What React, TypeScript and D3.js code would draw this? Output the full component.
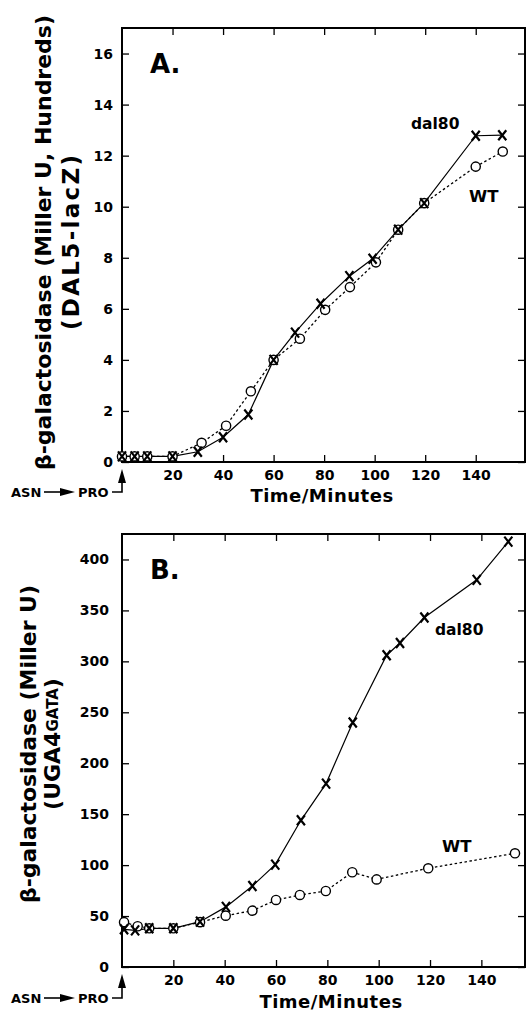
import { useRef, useEffect } from 'react';
import * as d3 from 'd3';

const FONT = '"DejaVu Sans", "Liberation Sans", Arial, sans-serif';

// panel A: DAL5-lacZ (Miller units, hundreds)
const timeA_dal80 = [0, 5, 10, 20, 30, 40, 50, 60, 68.5, 78.6, 90, 99.2, 109.3, 119.6, 140, 150.5];
const valA_dal80 = [0.22, 0.22, 0.22, 0.22, 0.4, 0.97, 1.86, 4.0, 5.07, 6.2, 7.28, 7.96, 9.1, 10.14, 12.78, 12.8];
const timeA_wt = [0, 5, 10, 20, 31.5, 41.2, 51, 60, 70.4, 80.4, 90.2, 100.5, 109.3, 119.6, 140, 150.7];
const valA_wt = [0.22, 0.22, 0.22, 0.22, 0.75, 1.42, 2.77, 4.0, 4.83, 5.96, 6.85, 7.82, 9.1, 10.14, 11.57, 12.16];

// panel B: UGA4-GATA (Miller units)
const timeB_dal80 = [0.8, 5.1, 10.6, 20, 30.4, 40.5, 50.8, 59.7, 69.7, 79.5, 89.9, 103.1, 108.3, 117.8, 138.2, 150.5];
const valB_dal80 = [37, 36, 38, 38, 44.5, 59, 79.5, 100.5, 144, 180, 240, 306, 318, 343, 380, 417.5];
const timeB_wt = [0.8, 6.1, 10.6, 20, 30.4, 40.4, 50.8, 60, 69.3, 79.4, 89.7, 99.2, 119.3, 153.1];
const valB_wt = [44, 40, 38, 38, 44, 50.4, 55.3, 65.8, 70.7, 74.6, 93, 86, 96.9, 111.6];

const ticksA_y = d3.range(0, 17, 2);
const ticksB_y = d3.range(0, 401, 50);
const ticks_x = [20, 40, 60, 80, 100, 120, 140];

const L = 122, R = 525;

function styleAxis(g: any) {
  g.select('.domain').remove();
  g.selectAll('line').attr('stroke', '#000').attr('stroke-width', 1.3);
  g.selectAll('text')
    .attr('font-family', FONT)
    .attr('font-weight', 'bold')
    .attr('font-size', 14)
    .attr('fill', '#000');
}

function XMark({ x, y }: { x: number; y: number }) {
  return <path d={`M${x - 4},${y - 5}L${x + 4},${y + 5}M${x + 4},${y - 5}L${x - 4},${y + 5}`} stroke="#000" strokeWidth={2.2} />;
}

function Panel({ top, bottom, xMax, yMax, yTicks, yPad, dal80, wt }: any) {
  const gl = useRef<SVGGElement>(null);
  const gb = useRef<SVGGElement>(null);
  const gt = useRef<SVGGElement>(null);
  const gr = useRef<SVGGElement>(null);
  const x = d3.scaleLinear([0, xMax], [L, R]);
  const y = d3.scaleLinear([0, yMax], [bottom, top]);

  useEffect(() => {
    d3.select(gl.current).call(d3.axisLeft(y).tickValues(yTicks).tickSizeInner(-7).tickSizeOuter(0).tickPadding(yPad)).call(styleAxis);
    d3.select(gb.current).call(d3.axisBottom(x).tickValues(ticks_x).tickSizeInner(-7).tickSizeOuter(0).tickPadding(8)).call(styleAxis);
    d3.select(gt.current).call(d3.axisTop(x).tickValues(ticks_x).tickSizeInner(-7).tickSizeOuter(0).tickFormat(() => '')).call(styleAxis);
    d3.select(gr.current).call(d3.axisRight(y).tickValues(yTicks).tickSizeInner(-7).tickSizeOuter(0).tickFormat(() => '')).call(styleAxis);
  }, [gl, gb, gt, gr, x, y]);

  const line = d3.line<[number, number]>().x(d => x(d[0])).y(d => y(d[1]));
  const dPts = d3.zip(dal80[0], dal80[1]) as [number, number][];
  const wPts = d3.zip(wt[0], wt[1]) as [number, number][];

  return (
    <g>
      <g ref={gl} transform={`translate(${L},0)`} />
      <g ref={gb} transform={`translate(0,${bottom})`} />
      <g ref={gt} transform={`translate(0,${top})`} />
      <g ref={gr} transform={`translate(${R},0)`} />
      <rect x={L} y={top} width={R - L} height={bottom - top} fill="none" stroke="#000" strokeWidth={2} />
      <path d={line(wPts) ?? ''} fill="none" stroke="#000" strokeWidth={1.3} strokeDasharray="2.5,2.5" />
      <path d={line(dPts) ?? ''} fill="none" stroke="#000" strokeWidth={1.2} />
      {wPts.map((d, i) => (
        <circle key={'w' + i} cx={x(d[0])} cy={y(d[1])} r={4.6} fill="#fff" stroke="#000" strokeWidth={1.4} />
      ))}
      {dPts.map((d, i) => (
        <XMark key={'d' + i} x={x(d[0])} y={y(d[1])} />
      ))}
    </g>
  );
}

function Shift({ base, axis }: { base: number; axis: number }) {
  // "ASN -> PRO" with the upward arrow marking the shift at t = 0
  const my = base - 5;
  return (
    <g fontFamily={FONT} fontWeight="bold" fontSize={13} fill="#000">
      <text x={11} y={base}>ASN</text>
      <line x1={44} x2={62} y1={my} y2={my} stroke="#000" strokeWidth={1.6} />
      <path d={`M60,${my - 4}L75,${my}L60,${my + 4}Z`} fill="#000" />
      <text x={78} y={base}>PRO</text>
      <path d={`M112,${my}H${L}V${axis + 18}`} fill="none" stroke="#000" strokeWidth={1.6} />
      <path d={`M${L - 4},${axis + 21}L${L},${axis + 7}L${L + 4},${axis + 21}Z`} fill="#000" />
    </g>
  );
}

export default function App() {
  return (
    <svg width={527} height={1011} style={{ position: 'absolute', left: 0, top: 0, background: '#fff' }}>
      <Panel top={28} bottom={462} xMax={159.5} yMax={17} yTicks={ticksA_y} yPad={9}
        dal80={[timeA_dal80, valA_dal80]} wt={[timeA_wt, valA_wt]} />
      <Panel top={534} bottom={967} xMax={157} yMax={425} yTicks={ticksB_y} yPad={13}
        dal80={[timeB_dal80, valB_dal80]} wt={[timeB_wt, valB_wt]} />

      <g fontFamily={FONT} fontWeight="bold" fill="#000">
        <text x={150} y={73} fontSize={26}>A.</text>
        <text x={411} y={129} fontSize={15.5}>dal80</text>
        <text x={469} y={202} fontSize={16.5}>WT</text>
        <text x={322} y={502} fontSize={18} letterSpacing={0.5} textAnchor="middle">Time/Minutes</text>
        <text transform="translate(51,242.5) rotate(-90)" fontSize={22} textAnchor="middle" textLength={455} lengthAdjust="spacing">β-galactosidase (Miller U, Hundreds)</text>
        <text transform="translate(79,242.5) rotate(-90)" fontSize={23} textAnchor="middle" textLength={175} lengthAdjust="spacing">(DAL5-lacZ)</text>

        <text x={150} y={579} fontSize={26}>B.</text>
        <text x={435} y={635} fontSize={15.5}>dal80</text>
        <text x={442} y={852} fontSize={16.5}>WT</text>
        <text x={331} y={1008} fontSize={18} letterSpacing={0.5} textAnchor="middle">Time/Minutes</text>
        <text transform="translate(36,744) rotate(-90)" fontSize={22} textAnchor="middle" textLength={318} lengthAdjust="spacing">β-galactosidase (Miller U)</text>
        <text transform="translate(60,744) rotate(-90)" fontSize={22} textAnchor="middle">
          (UGA4<tspan fontSize={15} dy={-2}>GATA</tspan><tspan dy={2}>)</tspan>
        </text>
      </g>

      <Shift base={497} axis={462} />
      <Shift base={1003} axis={967} />
    </svg>
  );
}
